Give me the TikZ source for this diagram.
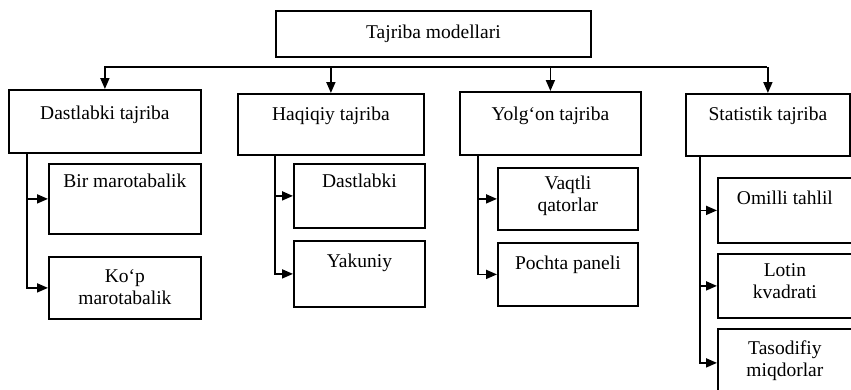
\documentclass[tikz,border=0pt]{standalone}
\usepackage{fontspec}
\setmainfont{Liberation Serif}
\usepackage{tikz}
\usetikzlibrary{arrows.meta}
\usetikzlibrary{positioning}

\begin{document}
\begin{tikzpicture}[x=1pt, y=-1pt, line width=1.8pt,
    box/.style={draw, anchor=north west, inner sep=0pt},
    lbl/.style={inner sep=0pt, align=center, font=\fontsize{19.5}{22}\selectfont},
    arr/.style={-{Triangle[length=11pt,width=9pt]}}]
      \useasboundingbox (0, 0) rectangle (851, 389);
      \clip (0, 0) rectangle (851, 389);
      \node [box, minimum width=315pt, minimum height=46pt] (model) at (275, 10) {};
      \node [lbl] (model-t) at (model.center) {Tajriba modellari};
      \node [box, minimum width=192pt, minimum height=63pt] (dast) at (8, 89) {};
      \node [lbl, below=16pt of dast.north] (dast-t) {Dastlabki tajriba};
      \node [box, minimum width=186pt, minimum height=61pt] (haq) at (237, 93) {};
      \node [lbl, below=13pt of haq.north] (haq-t) {Haqiqiy tajriba};
      \node [box, minimum width=181pt, minimum height=63pt] (yol) at (459, 91) {};
      \node [lbl, below=15pt of yol.north] (yol-t) {Yolg‘on tajriba};
      \node [box, minimum width=164pt, minimum height=62pt] (stat) at (685, 93) {};
      \node [lbl, below=13pt of stat.north] (stat-t) {Statistik tajriba};
      \node [box, minimum width=152pt, minimum height=70pt] (bir) at (48, 163) {};
      \node [lbl, below=10pt of bir.north] (bir-t) {Bir marotabalik};
      \node [box, minimum width=152pt, minimum height=62pt] (kop) at (48, 256) {};
      \node [lbl, below=13pt of kop.north] (kop-t) {Ko‘p\\marotabalik};
      \node [box, minimum width=131pt, minimum height=64pt] (dl) at (293, 163) {};
      \node [lbl, below=10pt of dl.north] (dl-t) {Dastlabki};
      \node [box, minimum width=131pt, minimum height=66pt] (yak) at (293, 240) {};
      \node [lbl, below=13pt of yak.north] (yak-t) {Yakuniy};
      \node [box, minimum width=140pt, minimum height=62pt] (vaq) at (497, 167) {};
      \node [lbl, below=8pt of vaq.north] (vaq-t) {Vaqtli\\qatorlar};
      \node [box, minimum width=140pt, minimum height=63pt] (poch) at (497, 242) {};
      \node [lbl, below=13pt of poch.north] (poch-t) {Pochta paneli};
      \node [box, minimum width=150pt, minimum height=65pt] (omil) at (717, 177) {};
      \node [lbl, below=13pt of omil.north, xshift=-8pt] (omil-t) {Omilli tahlil};
      \node [box, minimum width=150pt, minimum height=64pt] (lot) at (717, 253) {};
      \node [lbl, below=10pt of lot.north, xshift=-8pt] (lot-t) {Lotin\\kvadrati};
      \node [box, minimum width=150pt, minimum height=68pt] (tas) at (717, 328) {};
      \node [lbl, below=12pt of tas.north, xshift=-8pt] (tas-t) {Tasodifiy\\miqdorlar};
      % umumiy chiziq
      \coordinate (busL) at (104, 67);
      \coordinate (busR) at (767, 67);
      \draw (busL) -- (busR);
      \draw [arr] (dast.north |- busL) -- (dast.north);
      \draw [arr] (haq.north |- busL) -- (haq.north);
      \draw [arr] (yol.north |- busL) -- (yol.north);
      \draw [arr] (stat.north |- busL) -- (stat.north);
      \draw [arr] (dast.south west) ++(19, 0) |- (bir.west);
      \draw [arr] (dast.south west) ++(19, 0) |- (kop.west);
      \draw [arr] (haq.south west) ++(38, 0) |- (dl.west);
      \draw [arr] (haq.south west) ++(38, 0) |- (yak.west);
      \draw [arr] (yol.south west) ++(19, 0) |- (vaq.west);
      \draw [arr] (yol.south west) ++(19, 0) |- (poch.west);
      \draw [arr] (stat.south west) ++(15, 0) |- (omil.west);
      \draw [arr] (stat.south west) ++(15, 0) |- (lot.west);
      \draw [arr] (stat.south west) ++(15, 0) |- (tas.west);
    \end{tikzpicture}
\end{document}
